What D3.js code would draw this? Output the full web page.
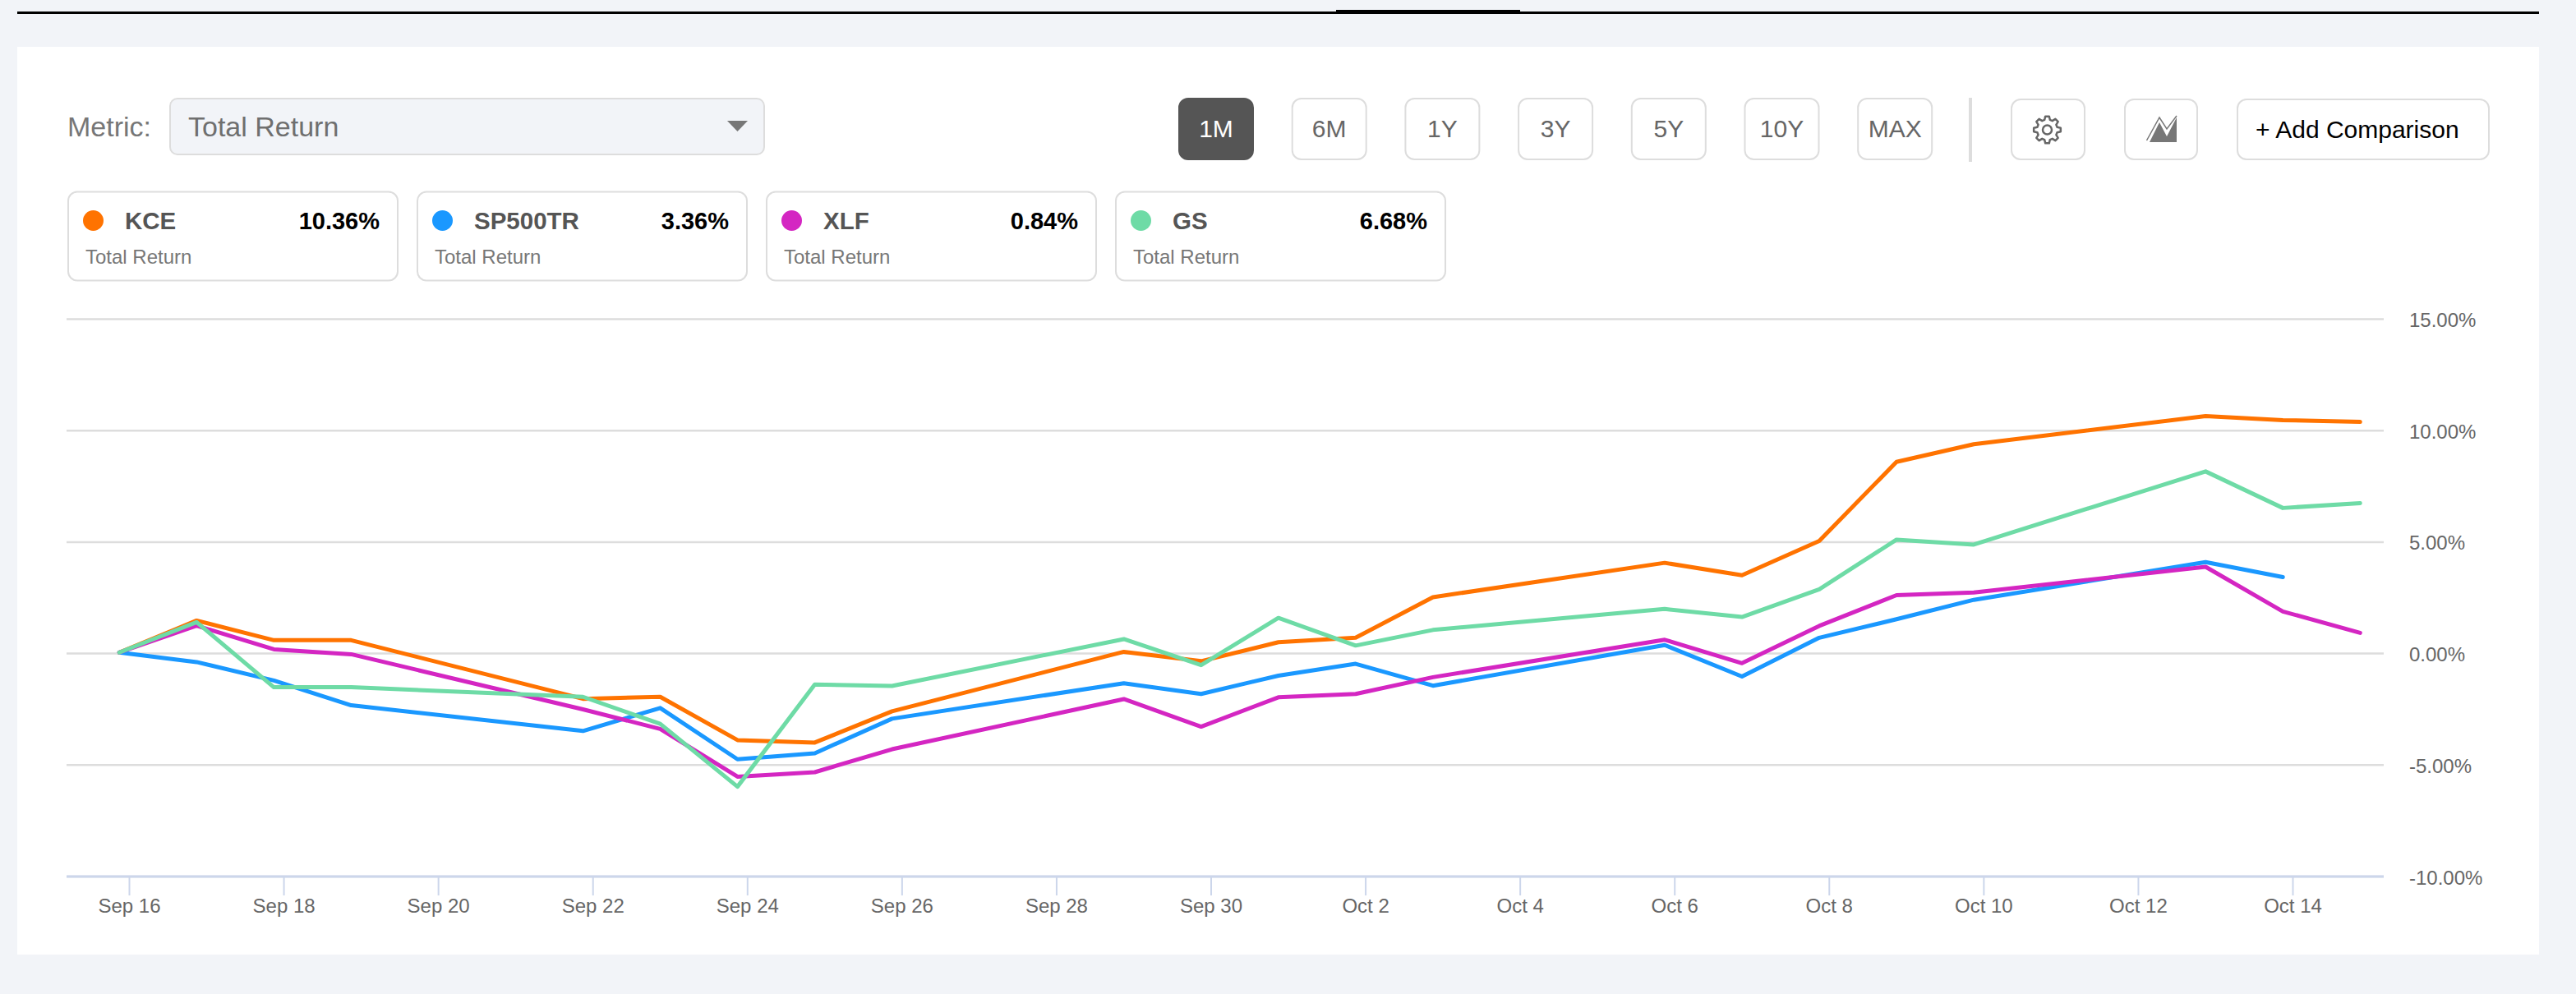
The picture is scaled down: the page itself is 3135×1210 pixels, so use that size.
<!DOCTYPE html>
<html>
<head>
<meta charset="utf-8">
<title>Total Return</title>
<script src="https://cdnjs.cloudflare.com/ajax/libs/d3/7.8.5/d3.min.js"></script>
<style>
  html, body { margin: 0; padding: 0; background: #f2f4f8; }
  svg { display: block; font-family: "Liberation Sans", Arial, sans-serif; }
</style>
</head>
<body>
<div id="chart"></div>
<script>
// trading days, the gaps are weekends
const dates = ['09-16','09-17','09-18','09-19','09-22','09-23','09-24','09-25','09-26','09-29','09-30','10-01','10-02','10-03','10-06','10-07','10-08','10-09','10-10','10-13','10-14','10-15'];
const tickDates = ['09-16','09-18','09-20','09-22','09-24','09-26','09-28','09-30','10-02','10-04','10-06','10-08','10-10','10-12','10-14'];
const yTicks = [-10, -5, 0, 5, 10, 15];

const kce = [0.05,1.48,0.60,0.60,-2.03,-1.94,-3.88,-3.99,-2.59,0.08,-0.34,0.51,0.71,2.53,4.07,3.51,5.05,8.60,9.39,10.65,10.47,10.39];
const sp500tr = [0.05,-0.38,-1.21,-2.32,-3.47,-2.44,-4.74,-4.47,-2.92,-1.33,-1.81,-0.99,-0.46,-1.44,0.38,-1.03,0.71,1.54,2.41,4.10,3.43];
const xlf = [0.05,1.25,0.19,-0.03,-2.50,-3.38,-5.52,-5.32,-4.29,-2.04,-3.28,-1.96,-1.81,-1.06,0.62,-0.43,1.24,2.62,2.74,3.89,1.89,0.93];
const gs = [0.05,1.41,-1.51,-1.51,-1.94,-3.15,-5.97,-1.39,-1.45,0.65,-0.52,1.60,0.36,1.06,2.00,1.64,2.88,5.11,4.89,8.17,6.53,6.75];

const tickers = ['KCE', 'SP500TR', 'XLF', 'GS'];
const totals = ['10.36%', '3.36%', '0.84%', '6.68%'];
const colors = ['#ff7300', '#1a98ff', '#d426c2', '#6edba6'];
const seriesValues = [kce, sp500tr, xlf, gs];

const metricName = 'Total Return';
const rangeLabels = ['1M', '6M', '1Y', '3Y', '5Y', '10Y', 'MAX'];
const activeRange = '1M';

const W = 3135, H = 1210;
const pageBg = '#f2f4f8', border = '#dddddd', axisBlue = '#ccd6eb';

const svg = d3.select('#chart').append('svg')
  .attr('width', W)
  .attr('height', H)
  .attr('viewBox', '0 0 ' + W + ' ' + H);

svg.append('rect').attr('width', W).attr('height', H).attr('fill', pageBg);

// top rule with the selected tab marker
svg.append('rect').attr('x', 21).attr('y', 14).attr('width', 3069).attr('height', 3).attr('fill', '#000');
svg.append('rect').attr('x', 1626).attr('y', 12).attr('width', 224).attr('height', 3).attr('fill', '#000');

// white panel
svg.append('rect').attr('x', 21).attr('y', 57).attr('width', 3069).attr('height', 1105).attr('fill', '#fff');

// metric select
svg.append('text').attr('x', 82).attr('y', 166).attr('font-size', 34).attr('fill', '#777').text('Metric:');
svg.append('rect')
  .attr('x', 207).attr('y', 120).attr('width', 723).attr('height', 68).attr('rx', 9)
  .attr('fill', pageBg).attr('stroke', border).attr('stroke-width', 2);
svg.append('text').attr('x', 229).attr('y', 166).attr('font-size', 34).attr('fill', '#6f6f6f').text(metricName);
svg.append('path').attr('d', 'M885,147 L910,147 L897.5,160 Z').attr('fill', '#777');

// range buttons
const rangeBtn = svg.append('g').selectAll('g')
  .data(rangeLabels)
  .enter()
  .append('g')
  .attr('transform', function (d, i) { return 'translate(' + (1434 + i * 137.7) + ',119)'; });

rangeBtn.append('rect')
  .attr('x', 1).attr('y', 1).attr('width', 90).attr('height', 74).attr('rx', 11)
  .attr('fill', function (d) { return d === activeRange ? '#555' : '#fff'; })
  .attr('stroke', function (d) { return d === activeRange ? '#555' : border; })
  .attr('stroke-width', 2);

rangeBtn.append('text')
  .attr('x', 46).attr('y', 48)
  .attr('text-anchor', 'middle')
  .attr('font-size', 30)
  .attr('fill', function (d) { return d === activeRange ? '#fff' : '#666'; })
  .text(function (d) { return d; });

// divider between ranges and tools
svg.append('rect').attr('x', 2396).attr('y', 119).attr('width', 4).attr('height', 78).attr('fill', border);

function toolButton(x, w) {
  svg.append('rect')
    .attr('x', x + 1).attr('y', 121).attr('width', w - 2).attr('height', 73).attr('rx', 11)
    .attr('fill', '#fff').attr('stroke', border).attr('stroke-width', 2);
}

toolButton(2447, 91);
toolButton(2585, 90);
toolButton(2722, 308);

// gear icon
const gearPts = [];
d3.range(8).forEach(function (i) {
  const a = i * Math.PI / 4;
  [[-0.27, 12.5], [-0.14, 16.5], [0.14, 16.5], [0.27, 12.5]].forEach(function (p) {
    gearPts.push([a + p[0], p[1]]);
  });
});
const gear = svg.append('g').attr('transform', 'translate(2491.5,158)');
gear.append('path')
  .attr('d', d3.lineRadial().curve(d3.curveLinearClosed)(gearPts))
  .attr('fill', 'none').attr('stroke', '#666').attr('stroke-width', 2.5).attr('stroke-linejoin', 'round');
gear.append('circle').attr('r', 5.5).attr('fill', 'none').attr('stroke', '#666').attr('stroke-width', 2.5);

// area chart icon
svg.append('path').attr('d', 'M2616,173 L2628,149 L2637,166 L2649,143 L2649,173 Z').attr('fill', '#777');
svg.append('path').attr('d', 'M2612.5,171 L2628,143 L2637,157 L2649,141').attr('fill', 'none').attr('stroke', '#777').attr('stroke-width', 1.5);

svg.append('text').attr('x', 2745).attr('y', 168).attr('font-size', 30).attr('fill', '#000').text('+ Add Comparison');

// legend cards
const card = svg.append('g').selectAll('g')
  .data(tickers)
  .enter()
  .append('g')
  .attr('transform', function (d, i) { return 'translate(' + (82 + i * 425) + ',232.5)'; });

card.append('rect')
  .attr('x', 1).attr('y', 1).attr('width', 401).attr('height', 108).attr('rx', 11)
  .attr('fill', '#fff').attr('stroke', border).attr('stroke-width', 2);
card.append('circle')
  .attr('cx', 31.5).attr('cy', 36).attr('r', 12.5)
  .attr('fill', function (d, i) { return colors[i]; });
card.append('text')
  .attr('x', 70).attr('y', 46)
  .attr('font-size', 29.5).attr('font-weight', 700).attr('fill', '#555')
  .text(function (d) { return d; });
card.append('text')
  .attr('x', 380).attr('y', 46)
  .attr('text-anchor', 'end')
  .attr('font-size', 29).attr('font-weight', 700).attr('fill', '#000')
  .text(function (d, i) { return totals[i]; });
card.append('text')
  .attr('x', 22).attr('y', 88)
  .attr('font-size', 24).attr('fill', '#777')
  .text(metricName);

// chart scales
const margin = { left: 81, right: 2901, top: 388.5, bottom: 1067 };
const parseDay = d3.utcParse('%Y-%m-%d');
const tickShift = 3.5; // ticks sit a few hours after the data stamps
const day = function (d) { return parseDay('2025-' + d); };
const tickDay = function (d) { return d3.utcHour.offset(day(d), tickShift); };

const x = d3.scaleUtc()
  .domain([tickDay(tickDates[0]), tickDay(tickDates[tickDates.length - 1])])
  .range([157, 2790]);
const y = d3.scaleLinear().domain([-10, 15]).range([margin.bottom, margin.top]);

// y axis with grid lines
const yAxis = svg.append('g')
  .attr('transform', 'translate(' + margin.right + ',0)')
  .call(d3.axisRight(y)
    .offset(0)
    .tickValues(yTicks)
    .tickSize(-(margin.right - margin.left))
    .tickPadding(31)
    .tickFormat(function (d) { return d.toFixed(2) + '%'; }));
yAxis.select('.domain').remove();
yAxis.selectAll('line').attr('stroke', border).attr('stroke-width', 2.5);
yAxis.selectAll('text')
  .attr('font-family', '"Liberation Sans", Arial, sans-serif')
  .attr('font-size', 24).attr('fill', '#666')
  .attr('dy', 9.5);

// x axis
const xAxis = svg.append('g')
  .attr('transform', 'translate(0,' + margin.bottom + ')')
  .call(d3.axisBottom(x)
    .tickValues(tickDates.map(tickDay))
    .tickSize(23)
    .tickPadding(0)
    .tickFormat(d3.utcFormat('%b %-d')));
xAxis.select('.domain').remove();
xAxis.selectAll('line').attr('stroke', axisBlue).attr('stroke-width', 2);
xAxis.selectAll('text')
  .attr('font-family', '"Liberation Sans", Arial, sans-serif')
  .attr('font-size', 24).attr('fill', '#666')
  .attr('y', 44).attr('dy', 0);
svg.append('line')
  .attr('x1', margin.left).attr('x2', margin.right)
  .attr('y1', margin.bottom).attr('y2', margin.bottom)
  .attr('stroke', axisBlue).attr('stroke-width', 3);

// lines
const line = d3.line()
  .x(function (d, i) { return x(day(dates[i])); })
  .y(function (d) { return y(d); });

svg.append('g').selectAll('path')
  .data(seriesValues)
  .enter()
  .append('path')
  .attr('d', line)
  .attr('fill', 'none')
  .attr('stroke', function (d, i) { return colors[i]; })
  .attr('stroke-width', 5)
  .attr('stroke-linecap', 'round')
  .attr('stroke-linejoin', 'round');
</script>
</body>
</html>
